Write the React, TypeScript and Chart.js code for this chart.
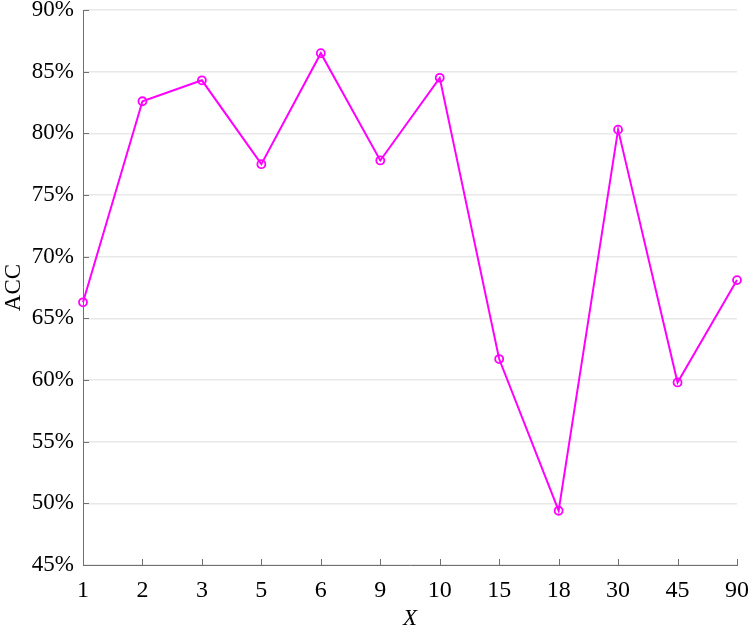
import React, { useEffect, useRef } from "react";
import { Chart, registerables } from "chart.js";

Chart.register(...registerables);

const categories = ["1", "2", "3", "5", "6", "9", "10", "15", "18", "30", "45", "90"];
const accValues = [66.3, 82.6, 84.3, 77.5, 86.5, 77.8, 84.5, 61.7, 49.4, 80.3, 59.8, 68.1];
const yMin = 45;
const yMax = 90;
const yStep = 5;

const FONT = "'Liberation Serif', 'Times New Roman', serif";
const AXIS_COLOR = "#707070";

const innerTicks = {
  id: "innerTicks",
  afterDraw(chart: any) {
    const { ctx, chartArea } = chart;
    const xs = chart.scales.x;
    const ys = chart.scales.y;
    ctx.save();
    ctx.strokeStyle = AXIS_COLOR;
    ctx.lineWidth = 1;
    ctx.beginPath();
    xs.ticks.forEach((_t: any, i: number) => {
      const x = Math.round(xs.getPixelForTick(i)) + 0.5;
      ctx.moveTo(x, chartArea.bottom);
      ctx.lineTo(x, chartArea.bottom - 6);
    });
    ys.ticks.forEach((_t: any, i: number) => {
      const y = Math.round(ys.getPixelForTick(i)) + 0.5;
      ctx.moveTo(chartArea.left, y);
      ctx.lineTo(chartArea.left + 6, y);
    });
    ctx.stroke();
    ctx.restore();
  },
};

export default function App() {
  const ref = useRef<HTMLCanvasElement>(null);
  useEffect(() => {
    if (!ref.current) return;
    let chart: any = null;
    let cancelled = false;
    const build = () => {
      if (cancelled || !ref.current) return;
      chart = new Chart(ref.current, {
        type: "line",
        data: {
          labels: categories,
          datasets: [
            {
              data: accValues,
              borderColor: "#ff00ff",
              backgroundColor: "rgba(255,255,255,0)",
              borderWidth: 2,
              pointRadius: 4,
              pointBorderWidth: 1.8,
              pointBorderColor: "#ff00ff",
              pointBackgroundColor: "rgba(255,255,255,0)",
              tension: 0,
            },
          ],
        },
        options: {
          animation: false,
          responsive: false,
          maintainAspectRatio: false,
          layout: { padding: { top: 10, right: 13, left: 0, bottom: 0 } },
          plugins: { legend: { display: false }, tooltip: { enabled: false } },
          scales: {
            x: {
              offset: false,
              grid: { display: false, drawTicks: false },
              border: { display: true, color: AXIS_COLOR, width: 1 },
              ticks: {
                color: "#000",
                font: { family: FONT, size: 24 },
                padding: 11,
                maxRotation: 0,
                autoSkip: false,
              },
              title: {
                display: true,
                text: "X",
                color: "#000",
                font: { family: FONT, size: 23, style: "italic", lineHeight: 0.9 },
                padding: { top: 0, bottom: 0 },
              },
              afterFit: (s: any) => {
                s.height = 64;
                s.paddingLeft = 0;
                s.paddingRight = 0;
              },
            },
            y: {
              min: yMin,
              max: yMax,
              grid: { color: "#e8e8e8", lineWidth: 1.5, drawTicks: false },
              border: { display: true, color: AXIS_COLOR, width: 1 },
              ticks: {
                stepSize: yStep,
                color: "#000",
                font: { family: FONT, size: 23 },
                padding: 9,
                callback: (v: any) => `${v}%`,
              },
              title: {
                display: true,
                text: "ACC",
                color: "#000",
                font: { family: FONT, size: 23 },
                padding: { top: 0, bottom: 2 },
              },
              afterFit: (s: any) => {
                s.width = 83;
                s.paddingTop = 0;
                s.paddingBottom = 0;
              },
            },
          },
        },
        plugins: [innerTicks],
      });
    };
    const fonts: any = (document as any).fonts;
    if (fonts && fonts.load) {
      Promise.all([
        fonts.load("23px 'Liberation Serif'"),
        fonts.load("italic 23px 'Liberation Serif'"),
      ])
        .catch(() => null)
        .then(build);
    } else {
      build();
    }
    return () => {
      cancelled = true;
      if (chart) chart.destroy();
    };
  }, []);
  return (
    <div style={{ position: "fixed", left: 0, top: 0, width: 750, height: 629, background: "#fff" }}>
      <canvas ref={ref} width={750} height={629} style={{ display: "block" }} />
    </div>
  );
}
